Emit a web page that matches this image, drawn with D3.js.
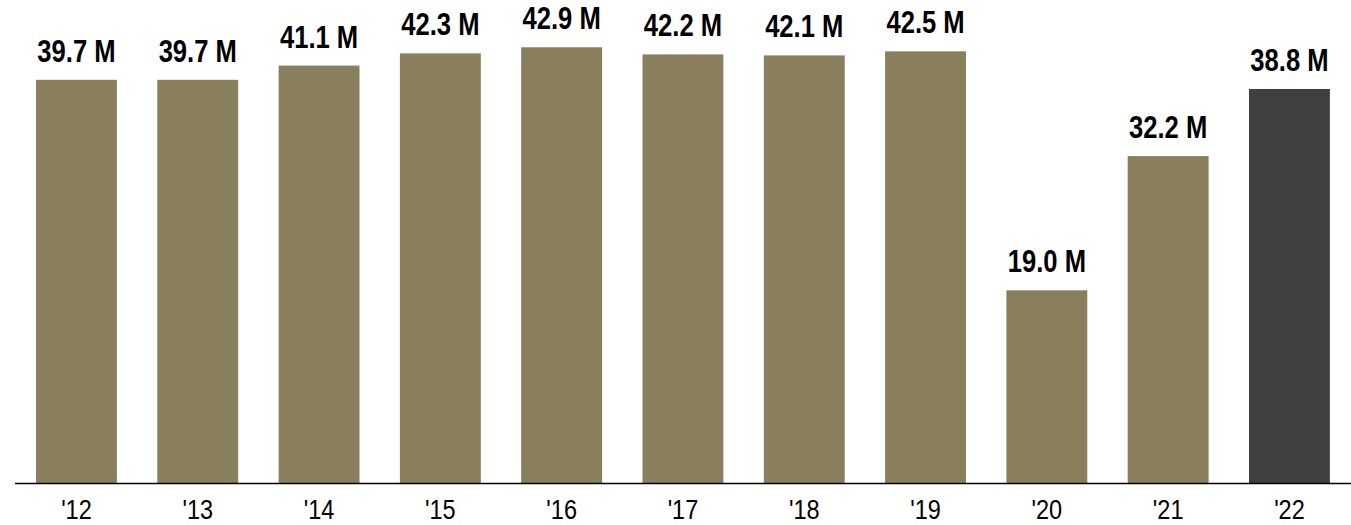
<!DOCTYPE html>
<html><head><meta charset="utf-8">
<script src="https://cdn.jsdelivr.net/npm/d3@7"></script>
<style>
html,body{margin:0;padding:0;background:#fff;}
svg{display:block;}
text{font-family:"Liberation Sans Narrow","Arial Narrow","Liberation Sans",sans-serif;}
</style></head>
<body>
<svg id="c" width="1351" height="525"></svg>
<script>
const categories = ["'12","'13","'14","'15","'16","'17","'18","'19","'20","'21","'22"];
const values = [39.7,39.7,41.1,42.3,42.9,42.2,42.1,42.5,19.0,32.2,38.8];
const labels = ["39.7 M","39.7 M","41.1 M","42.3 M","42.9 M","42.2 M","42.1 M","42.5 M","19.0 M","32.2 M","38.8 M"];
const highlight = ["'22"];

const svg = d3.select("#c");
const baseY = 483.5;
const x = d3.scaleBand().domain(categories).range([15.8, 1350.1]).paddingInner(0.333).paddingOuter(0.1665);
const y = d3.scaleLinear().domain([0, 47.55]).range([baseY, 0]);

svg.selectAll("rect.bar").data(categories).join("rect")
  .attr("class","bar")
  .attr("x", d => x(d))
  .attr("width", x.bandwidth())
  .attr("y", (d,i) => y(values[i]))
  .attr("height", (d,i) => baseY - y(values[i]))
  .attr("fill", d => highlight.includes(d) ? "#404040" : "#8a7f5c");

svg.selectAll("text.val").data(categories).join("text")
  .attr("class","val")
  .attr("transform", (d,i) => `translate(${x(d) + x.bandwidth()/2},${y(values[i]) - 18}) scale(0.8,1)`)
  .attr("text-anchor","middle")
  .attr("font-weight","bold")
  .attr("font-size", 32)
  .attr("fill","#000")
  .text((d,i) => labels[i]);

svg.append("line").attr("x1",15).attr("x2",1351).attr("y1",baseY).attr("y2",baseY)
  .attr("stroke","#000").attr("stroke-width",1.5);

const axis = d3.axisBottom(x).tickSize(0).tickPadding(0);
const g = svg.append("g").attr("transform", `translate(0,${baseY})`).call(axis);
g.select(".domain").remove();
g.selectAll(".tick text").attr("font-size", 28).attr("fill","#000")
  .attr("font-family","'Liberation Sans Narrow','Arial Narrow','Liberation Sans',sans-serif")
  .attr("dy", null).attr("y", null)
  .attr("transform", "translate(0,35) scale(0.84,1)");
</script>
</body></html>
